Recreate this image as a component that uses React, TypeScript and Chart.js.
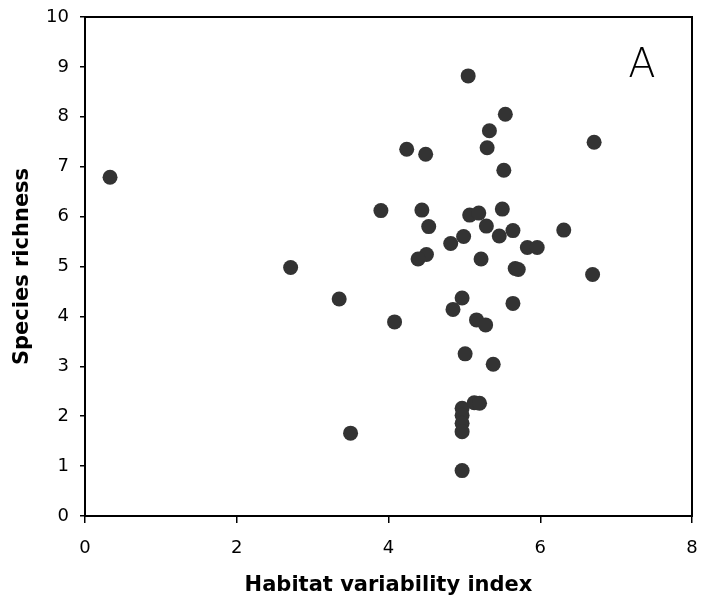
import React, { useEffect, useRef } from "react";
import { Chart, registerables } from "chart.js";

Chart.register(...registerables);

const xValues: number[] = [
  0.33, 2.71, 3.35, 3.5, 3.9, 4.08, 4.24, 4.49, 4.44, 4.53, 4.5, 4.39, 4.82, 4.85,
  4.97, 4.99, 5.05, 5.07, 5.19, 5.01, 4.97, 4.97, 4.97, 4.97, 4.97, 5.13, 5.2, 5.16,
  5.28, 5.22, 5.29, 5.3, 5.33, 5.38, 5.46, 5.5, 5.52, 5.54, 5.64, 5.64, 5.67, 5.71,
  5.83, 5.96, 6.31, 6.69, 6.71,
];
const yValues: number[] = [
  6.79, 4.98, 4.35, 1.66, 6.12, 3.89, 7.35, 7.25, 6.13, 5.8, 5.24, 5.15, 5.46, 4.14,
  4.37, 5.6, 8.82, 6.03, 6.07, 3.25, 2.16, 2.02, 1.86, 1.69, 0.91, 2.27, 2.26, 3.93,
  3.83, 5.15, 5.81, 7.38, 7.72, 3.04, 5.61, 6.15, 6.93, 8.05, 5.72, 4.26, 4.96, 4.94,
  5.38, 5.38, 5.73, 4.84, 7.49,
];
const xTitle = "Habitat variability index";
const yTitle = "Species richness";
const panelLabel = "A";
const panelLabelPos = { x: 7.34, y: 9.04 };

const frame = {
  id: "frame",
  beforeDatasetsDraw(chart: any) {
    const { ctx, chartArea } = chart;
    ctx.save();
    ctx.strokeStyle = "#000";
    ctx.lineWidth = 2;
    ctx.strokeRect(chartArea.left, chartArea.top, chartArea.right - chartArea.left, chartArea.bottom - chartArea.top);
    ctx.restore();
  },
  afterDatasetsDraw(chart: any) {
    const { ctx, scales } = chart;
    ctx.save();
    ctx.fillStyle = "#000";
    ctx.font = "200 40px 'DejaVu Sans', sans-serif";
    ctx.textAlign = "center";
    ctx.textBaseline = "middle";
    ctx.fillText(panelLabel, scales.x.getPixelForValue(panelLabelPos.x), scales.y.getPixelForValue(panelLabelPos.y) + 2);
    ctx.restore();
  },
};

export default function App() {
  const ref = useRef<HTMLCanvasElement | null>(null);
  useEffect(() => {
    if (!ref.current) return;
    const data = xValues.map((x, i) => ({ x, y: yValues[i] }));
    const chart = new Chart(ref.current, {
      type: "scatter",
      data: {
        datasets: [
          {
            data,
            backgroundColor: "#333333",
            borderColor: "#333333",
            borderWidth: 0,
            pointRadius: 7.5,
          },
        ],
      },
      options: {
        responsive: false,
        animation: false,
        layout: { padding: { left: 0, top: 17, right: 9, bottom: 0 } },
        plugins: { legend: { display: false }, tooltip: { enabled: false } },
        scales: {
          x: {
            type: "linear",
            min: 0,
            max: 8,
            ticks: {
              stepSize: 2,
              color: "#000",
              padding: 15,
              font: { family: "'DejaVu Sans', sans-serif", size: 18 },
            },
            grid: { drawOnChartArea: false, drawTicks: true, tickLength: 7, color: "#000", lineWidth: 1.5 },
            border: { display: true, color: "#000", width: 2 },
            title: {
              display: true,
              text: xTitle,
              color: "#000",
              padding: { top: 0, bottom: 12 },
              font: { family: "'DejaVu Sans', sans-serif", size: 21, weight: "bold" },
            },
            afterFit: (scale: any) => {
              scale.height = 94;
              scale.paddingLeft = 0;
              scale.paddingRight = 0;
            },
          },
          y: {
            type: "linear",
            min: 0,
            max: 10,
            ticks: {
              stepSize: 1,
              color: "#000",
              padding: 11,
              font: { family: "'DejaVu Sans', sans-serif", size: 18 },
            },
            grid: { drawOnChartArea: false, drawTicks: true, tickLength: 5, color: "#000", lineWidth: 1.5 },
            border: { display: true, color: "#000", width: 2 },
            title: {
              display: true,
              text: yTitle,
              color: "#000",
              padding: { top: 10, bottom: 0 },
              font: { family: "'DejaVu Sans', sans-serif", size: 21, weight: "bold" },
            },
            afterFit: (scale: any) => {
              scale.width = 85;
              scale.paddingTop = 0;
              scale.paddingBottom = 0;
            },
          },
        },
      },
      plugins: [frame],
    });
    return () => chart.destroy();
  }, []);
  return (
    <div style={{ position: "absolute", left: 0, top: 0, width: 701, height: 610, background: "#fff" }}>
      <canvas ref={ref} width={701} height={610} />
    </div>
  );
}
